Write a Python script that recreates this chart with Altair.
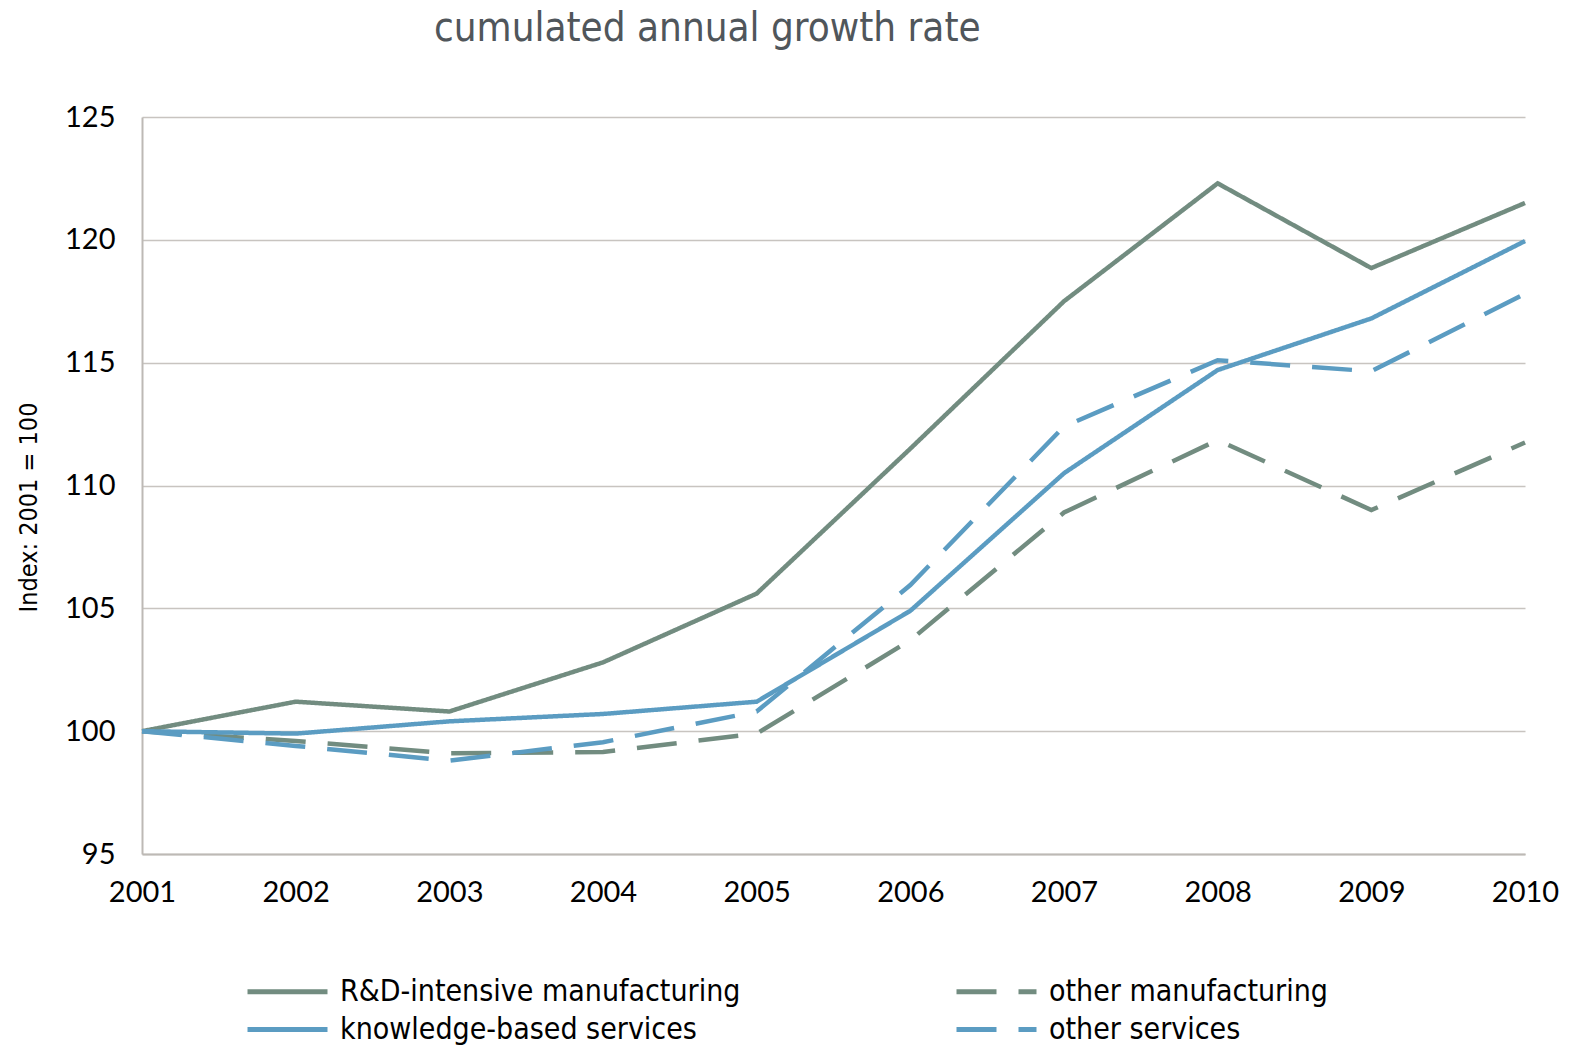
import altair as alt
import pandas as pd

years = [2001, 2002, 2003, 2004, 2005, 2006, 2007, 2008, 2009, 2010]
series_names = ["R&D-intensive manufacturing", "other manufacturing",
                "knowledge-based services", "other services"]
rd_manuf = [100, 101.2, 100.8, 102.8, 105.6, 111.5, 117.5, 122.3, 118.85, 121.5]
other_manuf = [100, 99.6, 99.1, 99.15, 99.9, 103.7, 108.9, 111.85, 109.0, 111.75]
knowledge_serv = [100, 99.9, 100.4, 100.7, 101.2, 104.9, 110.5, 114.7, 116.8, 119.95]
other_serv = [100, 99.4, 98.8, 99.55, 100.8, 105.95, 112.4, 115.1, 114.65, 117.8]

colors = ["#728c80", "#728c80", "#5b9cc2", "#5b9cc2"]
dashes = [[1, 0], [40, 22], [1, 0], [40, 22]]

rows = []
for name, vals in zip(series_names, [rd_manuf, other_manuf, knowledge_serv, other_serv]):
    for y, v in zip(years, vals):
        rows.append({"year": y, "value": v, "series": name})
df = pd.DataFrame(rows)

FONT = "DejaVu Sans Condensed, Liberation Sans Narrow, sans-serif"

legend = alt.Legend(title=None, orient="none", legendX=123, legendY=852,
                    direction="horizontal",
                    columns=2, columnPadding=205, rowPadding=-6,
                    symbolType="M-2,0H2", symbolSize=1600,
                    symbolStrokeWidth=5, labelFontSize=30,
                    labelFont=FONT, labelColor="#000000",
                    labelLimit=600, labelOffset=30)

chart = alt.Chart(df).mark_line(strokeWidth=4.5, strokeCap="butt", strokeJoin="miter").encode(
    x=alt.X("year:Q", scale=alt.Scale(domain=[2001, 2010], nice=False, zero=False),
            axis=alt.Axis(values=years, format="d", title=None, grid=False, ticks=False,
                          labelFontSize=29, labelPadding=24, labelColor="#000000",
                          labelFont="Lato", domainColor="#bdb9b5", domainWidth=2,
                          labelFlush=False)),
    y=alt.Y("value:Q", scale=alt.Scale(domain=[95, 125], nice=False, zero=False),
            axis=alt.Axis(values=[95, 100, 105, 110, 115, 120, 125], title="Index: 2001 = 100",
                          titleFontSize=25, titleFont=FONT, titleFontWeight="normal",
                          titleColor="#000000", titleX=-114, titleY=390,
                          titleAngle=270, titleAlign="center", titleBaseline="middle",
                          grid=True, gridColor="#c8c4c0", gridWidth=1.5, ticks=False,
                          labelFontSize=29, labelPadding=27, labelColor="#000000",
                          labelFont="Lato", domainColor="#bdb9b5", domainWidth=2)),
    color=alt.Color("series:N",
                    scale=alt.Scale(domain=series_names, range=colors),
                    legend=legend),
    strokeDash=alt.StrokeDash("series:N",
                              scale=alt.Scale(domain=series_names, range=dashes),
                              legend=legend),
    order="year:Q",
).properties(
    width=1383, height=737,
    title=alt.TitleParams("cumulated annual growth rate", anchor="start", dx=418,
                          fontSize=40, font=FONT, fontWeight="normal",
                          color="#50565b", offset=54),
    padding={"left": 134, "top": 109, "right": 36, "bottom": 191},
    autosize=alt.AutoSizeParams(type="none"),
).configure_view(stroke=None)

chart.save("out.html", embed_options={"renderer": "svg", "actions": False})
